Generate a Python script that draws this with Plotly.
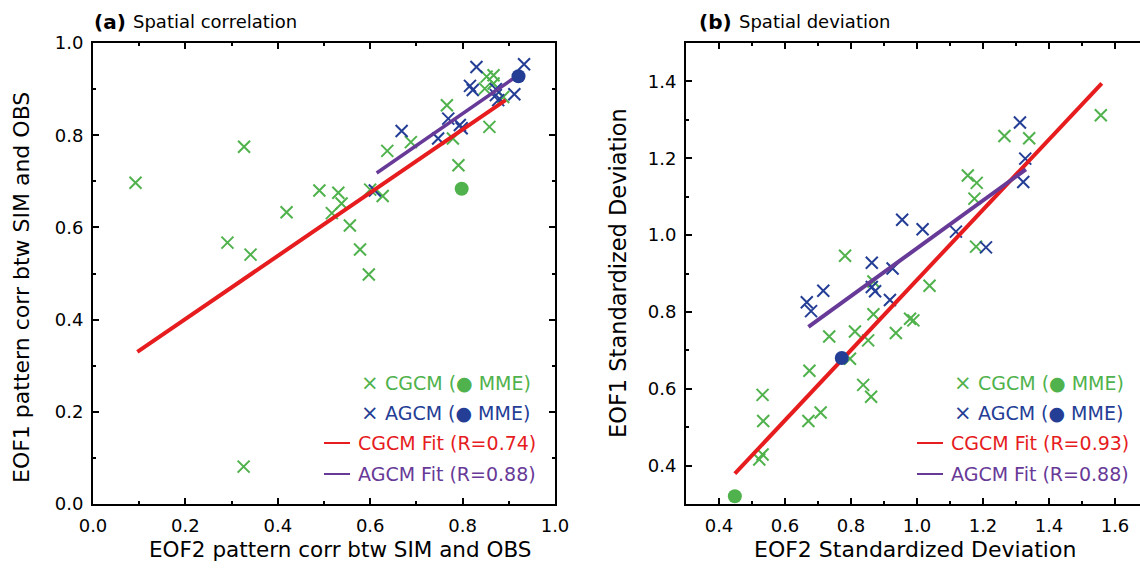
import plotly.graph_objects as go

# ---------------- data ----------------
# Panel (a): spatial correlation
a_cgcm_x = [0.092, 0.327, 0.490, 0.419, 0.291, 0.341, 0.326, 0.852, 0.867, 0.848, 0.867, 0.888, 0.766,
            0.858, 0.688, 0.779, 0.637, 0.791, 0.600, 0.627, 0.531, 0.538, 0.517, 0.556, 0.578, 0.597]
a_cgcm_y = [0.697, 0.775, 0.680, 0.633, 0.567, 0.541, 0.081, 0.927, 0.930, 0.901, 0.912, 0.883, 0.865,
            0.818, 0.785, 0.793, 0.766, 0.735, 0.682, 0.668, 0.675, 0.652, 0.631, 0.604, 0.552, 0.498]
a_agcm_x = [0.830, 0.933, 0.816, 0.822, 0.872, 0.877, 0.912, 0.769, 0.794, 0.798, 0.668, 0.747, 0.610, 0.872]
a_agcm_y = [0.948, 0.954, 0.907, 0.898, 0.887, 0.876, 0.889, 0.836, 0.822, 0.815, 0.809, 0.793, 0.680, 0.900]
a_cgcm_mme = [0.798, 0.684]
a_agcm_mme = [0.921, 0.928]
a_cgcm_fit_x = [0.096, 0.893]
a_cgcm_fit_y = [0.330, 0.876]
a_agcm_fit_x = [0.614, 0.910]
a_agcm_fit_y = [0.718, 0.923]

# Panel (b): spatial deviation
b_cgcm_x = [0.782, 0.868, 1.038, 1.557, 1.265, 1.340, 1.154, 1.181, 1.174, 1.179, 0.868, 0.979, 0.989, 0.936,
            0.812, 0.734, 0.852, 0.797, 0.674, 0.837, 0.861, 0.532, 0.534, 0.671, 0.708, 0.532, 0.522]
b_cgcm_y = [0.946, 0.879, 0.868, 1.312, 1.258, 1.252, 1.155, 1.136, 1.095, 0.970, 0.794, 0.782, 0.778, 0.745,
            0.749, 0.736, 0.726, 0.678, 0.647, 0.610, 0.579, 0.584, 0.516, 0.516, 0.538, 0.429, 0.416]
b_agcm_x = [0.955, 1.017, 1.312, 1.328, 1.322, 1.118, 1.209, 0.863, 0.926, 0.863, 0.873, 0.716, 0.918, 0.666, 0.679]
b_agcm_y = [1.040, 1.015, 1.293, 1.199, 1.138, 1.009, 0.968, 0.928, 0.913, 0.865, 0.854, 0.855, 0.831, 0.825, 0.802]
b_cgcm_mme = [0.448, 0.320]
b_agcm_mme = [0.772, 0.680]
b_cgcm_fit_x = [0.448, 1.560]
b_cgcm_fit_y = [0.379, 1.395]
b_agcm_fit_x = [0.671, 1.330]
b_agcm_fit_y = [0.761, 1.171]

legend_a = ["CGCM (\u25CF MME)", "AGCM (\u25CF MME)", "CGCM Fit (R=0.74)", "AGCM Fit (R=0.88)"]
legend_b = ["CGCM (\u25CF MME)", "AGCM (\u25CF MME)", "CGCM Fit (R=0.93)", "AGCM Fit (R=0.88)"]

# ---------------- style ----------------
W, H = 1140, 583
GREEN = "rgb(80,178,76)"
BLUE = "rgb(36,62,150)"
RED = "rgb(230,28,30)"
PURPLE = "rgb(104,58,152)"
TXT = "DejaVu Sans"


def px(x):
    return x / W


def py(y):
    return 1 - y / H


fig = go.Figure()


def add_panel(xa, ya, cx, cy, ax, ay, cmme, amme, cfx, cfy, afx, afy, lw_c, lw_a):
    xr, yr = xa, ya
    fig.add_trace(go.Scatter(x=cx, y=cy, mode="markers", xaxis=xr, yaxis=yr, showlegend=False,
                             marker=dict(symbol="x-thin", size=12, line=dict(width=2, color=GREEN))))
    fig.add_trace(go.Scatter(x=ax, y=ay, mode="markers", xaxis=xr, yaxis=yr, showlegend=False,
                             marker=dict(symbol="x-thin", size=12, line=dict(width=2, color=BLUE))))
    fig.add_trace(go.Scatter(x=cfx, y=cfy, mode="lines", xaxis=xr, yaxis=yr, showlegend=False,
                             line=dict(color=RED, width=lw_c)))
    fig.add_trace(go.Scatter(x=afx, y=afy, mode="lines", xaxis=xr, yaxis=yr, showlegend=False,
                             line=dict(color=PURPLE, width=lw_a)))
    fig.add_trace(go.Scatter(x=[cmme[0]], y=[cmme[1]], mode="markers", xaxis=xr, yaxis=yr, showlegend=False,
                             marker=dict(symbol="circle", size=14, color=GREEN)))
    fig.add_trace(go.Scatter(x=[amme[0]], y=[amme[1]], mode="markers", xaxis=xr, yaxis=yr, showlegend=False,
                             marker=dict(symbol="circle", size=14, color=BLUE)))


add_panel("x", "y", a_cgcm_x, a_cgcm_y, a_agcm_x, a_agcm_y, a_cgcm_mme, a_agcm_mme,
          a_cgcm_fit_x, a_cgcm_fit_y, a_agcm_fit_x, a_agcm_fit_y, 4, 3.5)
add_panel("x2", "y2", b_cgcm_x, b_cgcm_y, b_agcm_x, b_agcm_y, b_cgcm_mme, b_agcm_mme,
          b_cgcm_fit_x, b_cgcm_fit_y, b_agcm_fit_x, b_agcm_fit_y, 4, 4)

tickfont = dict(family=TXT, size=18, color="black")
common = dict(showgrid=False, zeroline=False, showline=True, linecolor="black", linewidth=2,
              ticks="inside", ticklen=6, tickwidth=2, tickcolor="black", tickfont=tickfont,
              tickformat=".1f", automargin=False)
minor = dict(ticks="inside", ticklen=3, tickwidth=2, tickcolor="black", dtick=0.1, showgrid=False)

ydom = [py(504), py(43)]
fig.update_layout(
    width=W, height=H, margin=dict(l=0, r=0, t=0, b=0, pad=0, autoexpand=False),
    paper_bgcolor="white", plot_bgcolor="white", showlegend=False,
    xaxis=dict(domain=[px(93), px(555)], range=[0, 1], tick0=0, dtick=0.2, anchor="y",
               mirror="ticks", minor=minor, ticklabelstandoff=4, **common),
    yaxis=dict(domain=ydom, range=[0, 1], tick0=0, dtick=0.2, anchor="x",
               mirror="ticks", minor=minor, ticklabelstandoff=4, **common),
    xaxis2=dict(domain=[px(686), 1], range=[0.3, 0.3 + (W - 686) / 330.0], tick0=0.4, dtick=0.2,
                anchor="y2", mirror="ticks", minor=dict(minor, tick0=0.3), ticklabelstandoff=4, **common),
    yaxis2=dict(domain=ydom, range=[0.3, 1.5], tick0=0.4, dtick=0.2, anchor="x2",
                mirror=False, minor=dict(minor, tick0=0.3), ticklabelstandoff=4, **common),
)

ann = []
shapes = []


def text(x, y, s, size, color="black", xanchor="center", family=TXT, angle=0):
    ann.append(dict(xref="paper", yref="paper", x=px(x), y=py(y), text=s, showarrow=False,
                    xanchor=xanchor, yanchor="middle", textangle=angle,
                    font=dict(family=family, size=size, color=color)))


# panel titles
text(92, 22, "<b>(a)</b>", 20, xanchor="left")
text(131, 22, "Spatial correlation", 18, xanchor="left")
text(697, 22, "<b>(b)</b>", 20, xanchor="left")
text(737, 22, "Spatial deviation", 18, xanchor="left")

# axis titles
text(340, 549, "EOF2 pattern corr btw SIM and OBS", 21.5)
text(22, 288, "EOF1 pattern corr btw SIM and OBS", 22, angle=-90)
text(915, 549, "EOF2 Standardized Deviation", 22)
text(618, 273, "EOF1 Standardized Deviation", 22.5, angle=-90)


def legend(xcross, xtext, xline0, xline1, labels):
    text(xcross, 383, "\u00D7", 21, GREEN)
    text(xtext, 383, labels[0], 19, GREEN, xanchor="left")
    text(xcross, 413, "\u00D7", 21, BLUE)
    text(xtext, 413, labels[1], 19, BLUE, xanchor="left")
    shapes.append(dict(type="line", xref="paper", yref="paper", x0=px(xline0), x1=px(xline1),
                       y0=py(443), y1=py(443), line=dict(color=RED, width=2)))
    text(xline1 + 6, 443, labels[2], 19, RED, xanchor="left")
    shapes.append(dict(type="line", xref="paper", yref="paper", x0=px(xline0), x1=px(xline1),
                       y0=py(474), y1=py(474), line=dict(color=PURPLE, width=2)))
    text(xline1 + 6, 474, labels[3], 19, PURPLE, xanchor="left")


legend(370, 383, 324, 350, legend_a)
legend(963, 976, 917, 943, legend_b)

fig.update_layout(annotations=ann, shapes=shapes)
fig.write_html("out.html")
